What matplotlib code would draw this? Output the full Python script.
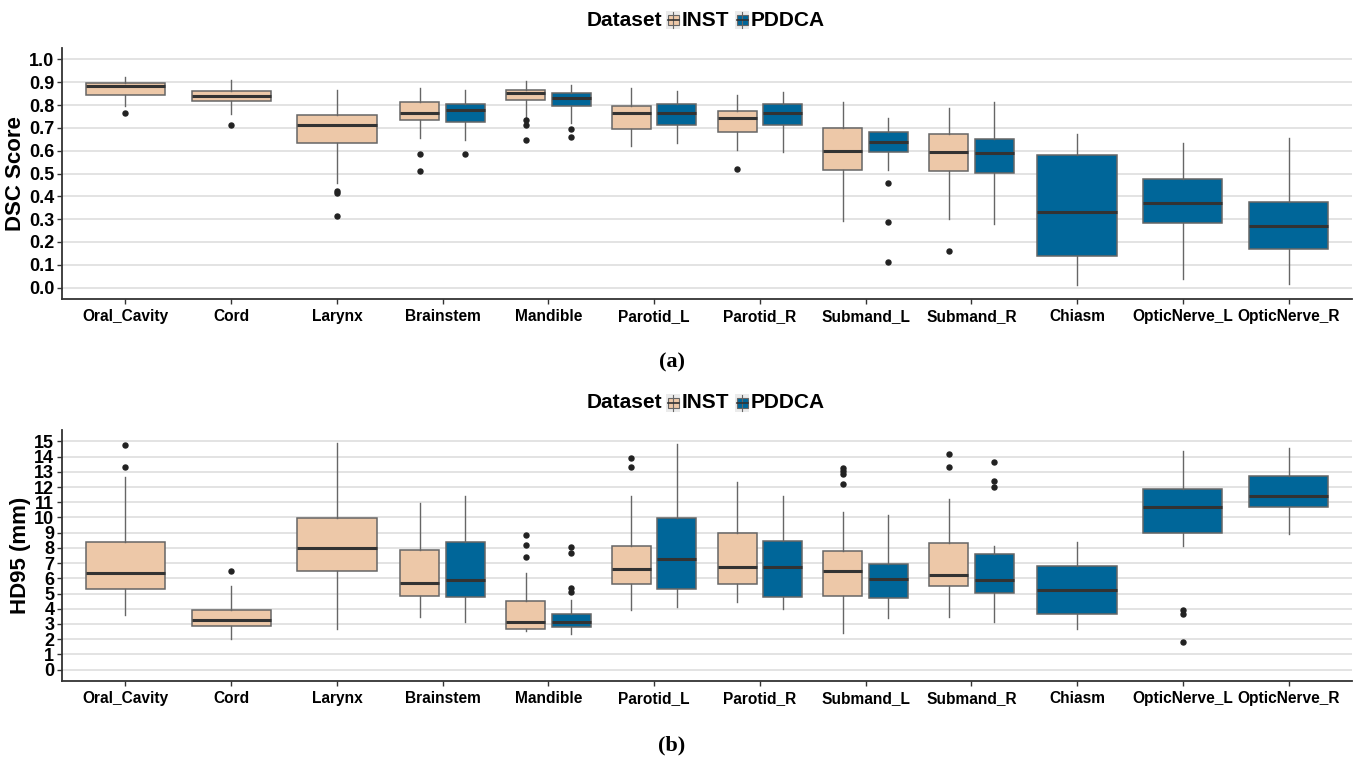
import matplotlib
matplotlib.use("Agg")
import matplotlib.pyplot as plt
from matplotlib.patches import Rectangle
from matplotlib.lines import Line2D

organs = ["Oral_Cavity", "Cord", "Larynx", "Brainstem", "Mandible", "Parotid_L",
          "Parotid_R", "Submand_L", "Submand_R", "Chiasm", "OpticNerve_L", "OpticNerve_R"]

# box stats per organ: (whisker low, q1, median, q3, whisker high); None = no data
dsc_inst = [
    (0.798, 0.842, 0.882, 0.895, 0.924),
    (0.759, 0.816, 0.838, 0.863, 0.908),
    (0.459, 0.633, 0.712, 0.757, 0.868),
    (0.655, 0.735, 0.765, 0.813, 0.873),
    (0.744, 0.820, 0.852, 0.868, 0.906),
    (0.620, 0.696, 0.765, 0.795, 0.873),
    (0.602, 0.684, 0.743, 0.776, 0.844),
    (0.291, 0.515, 0.598, 0.700, 0.814),
    (0.301, 0.510, 0.595, 0.674, 0.789),
    None, None, None,
]
dsc_inst_out = [[0.766], [0.713], [0.424, 0.415, 0.314], [0.586, 0.512],
                [0.735, 0.711, 0.645], [], [0.519], [], [0.159], [], [], []]
dsc_pddca = [
    None, None, None,
    (0.649, 0.725, 0.779, 0.806, 0.867),
    (0.722, 0.794, 0.830, 0.854, 0.887),
    (0.635, 0.713, 0.765, 0.806, 0.863),
    (0.595, 0.711, 0.763, 0.806, 0.858),
    (0.515, 0.595, 0.639, 0.681, 0.744),
    (0.279, 0.501, 0.588, 0.652, 0.814),
    (0.012, 0.140, 0.330, 0.582, 0.674),
    (0.038, 0.281, 0.371, 0.478, 0.632),
    (0.015, 0.171, 0.268, 0.376, 0.656),
]
dsc_pddca_out = [[], [], [], [0.586], [0.696, 0.659], [], [], [0.458, 0.288, 0.111],
                 [], [], [], []]

hd_inst = [
    (3.62, 5.28, 6.34, 8.39, 12.64),
    (1.98, 2.86, 3.29, 3.95, 5.49),
    (2.64, 6.45, 7.98, 9.96, 14.91),
    (3.44, 4.86, 5.67, 7.83, 10.94),
    (2.53, 2.68, 3.10, 4.51, 6.32),
    (3.92, 5.65, 6.63, 8.15, 11.42),
    (4.45, 5.60, 6.74, 8.98, 12.36),
    (2.38, 4.86, 6.47, 7.78, 10.38),
    (3.47, 5.52, 6.24, 8.33, 11.23),
    None, None, None,
]
hd_inst_out = [[14.74, 13.34], [6.50], [], [], [8.83, 8.22, 7.43], [13.89, 13.34], [],
               [13.23, 13.04, 12.86, 12.21], [14.19, 13.30], [], [], []]
hd_pddca = [
    None, None, None,
    (3.16, 4.80, 5.91, 8.37, 11.38),
    (2.31, 2.81, 3.14, 3.68, 4.56),
    (4.12, 5.28, 7.24, 9.94, 14.82),
    (4.01, 4.75, 6.74, 8.46, 11.38),
    (3.40, 4.69, 5.97, 6.93, 10.18),
    (3.16, 5.01, 5.86, 7.63, 8.15),
    (2.64, 3.68, 5.25, 6.80, 8.42),
    (8.11, 8.98, 10.70, 11.90, 14.39),
    (8.92, 10.66, 11.38, 12.73, 14.54),
]
hd_pddca_out = [[], [], [], [], [8.04, 7.65, 5.34, 5.08], [], [], [],
                [13.67, 12.38, 12.01], [], [3.92, 3.64, 1.79], []]

datasets = ["INST", "PDDCA"]
colors = {"INST": "#EDC8A8", "PDDCA": "#006699"}
EDGE = "#666666"
FONT = ["Liberation Sans", "DejaVu Sans"]
W, H = 1360, 762


def draw_panel(ax, inst, inst_out, pddca, pddca_out, yticks, ylim, ylabel):
    for i in range(len(organs)):
        groups = [(s, o, colors[d]) for s, o, d in
                  ((inst[i], inst_out[i], "INST"), (pddca[i], pddca_out[i], "PDDCA")) if s]
        if len(groups) == 2:
            pos, w = [i + 1 - 0.215, i + 1 + 0.215], 0.37
        else:
            pos, w = [i + 1], 0.75
        for p, (s, o, c) in zip(pos, groups):
            st = dict(whislo=s[0], q1=s[1], med=s[2], q3=s[3], whishi=s[4], fliers=o)
            ax.bxp([st], positions=[p], widths=w, patch_artist=True, showcaps=False,
                   boxprops=dict(facecolor=c, edgecolor=EDGE, linewidth=1.1),
                   medianprops=dict(color="#333333", linewidth=2.2),
                   whiskerprops=dict(color=EDGE, linewidth=1.0),
                   flierprops=dict(marker="o", markersize=3.6, markerfacecolor="#222222",
                                   markeredgecolor="#222222"),
                   manage_ticks=False, zorder=3)
    ax.set_xlim(0.4, len(organs) + 0.6)
    ax.set_ylim(*ylim)
    ax.set_yticks(yticks)
    ax.set_yticklabels([f"{t}" for t in yticks], family=FONT, fontweight="bold", fontsize=13)
    ax.set_xticks(range(1, len(organs) + 1))
    ax.set_xticklabels(organs, family=FONT, fontweight="bold", fontsize=11.2)
    ax.yaxis.grid(True, color="#E3E3E3", linewidth=1.4, zorder=0)
    ax.set_axisbelow(True)
    for side in ("top", "right"):
        ax.spines[side].set_visible(False)
    for side in ("left", "bottom"):
        ax.spines[side].set_color("#333333")
        ax.spines[side].set_linewidth(1.3)
    ax.tick_params(axis="both", length=3.5, color="#333333", width=1, pad=2)
    ax.tick_params(axis="x", pad=4)
    ax.set_ylabel(ylabel, family=FONT, fontweight="bold", fontsize=16, labelpad=2)


def box_key(fig, x, y, color):
    # ggplot-style boxplot legend key, x/y = pixel centre
    def fx(px):
        return px / W

    def fy(py):
        return 1 - py / H
    fig.add_artist(Rectangle((fx(x - 7), fy(y + 9)), 14 / W, 18 / H, facecolor="#EBEBEB",
                             edgecolor="none", transform=fig.transFigure))
    fig.add_artist(Line2D([fx(x)] * 2, [fy(y + 8), fy(y - 8)], color=EDGE, lw=0.8,
                          transform=fig.transFigure))
    fig.add_artist(Rectangle((fx(x - 5.5), fy(y + 5)), 11 / W, 10 / H, facecolor=color,
                             edgecolor=EDGE, lw=0.8, transform=fig.transFigure))
    fig.add_artist(Line2D([fx(x - 5.5), fx(x + 5.5)], [fy(y)] * 2, color="#333333", lw=1.2,
                          transform=fig.transFigure))


def add_legend(fig, y):
    kw = dict(family=FONT, fontweight="bold", fontsize=15, va="center", ha="left")
    fig.text(587 / W, 1 - y / H, "Dataset", **kw)
    box_key(fig, 673, y, colors["INST"])
    fig.text(682 / W, 1 - y / H, "INST", **kw)
    box_key(fig, 742, y, colors["PDDCA"])
    fig.text(751 / W, 1 - y / H, "PDDCA", **kw)


fig = plt.figure(figsize=(13.6, 7.62), dpi=100)
ax_a = fig.add_axes([62 / W, 1 - 299 / H, 1290 / W, 251 / H])
ax_b = fig.add_axes([62 / W, 1 - 681 / H, 1290 / W, 251 / H])

draw_panel(ax_a, dsc_inst, dsc_inst_out, dsc_pddca, dsc_pddca_out,
           [round(0.1 * k, 1) for k in range(11)], (-0.05, 1.05), "DSC Score")
draw_panel(ax_b, hd_inst, hd_inst_out, hd_pddca, hd_pddca_out,
           list(range(16)), (-0.75, 15.75), "HD95 (mm)")

add_legend(fig, 20)
add_legend(fig, 403)

fig.text(672 / W, 1 - 362 / H, "(a)", family="Liberation Serif", fontweight="bold",
         fontsize=16, ha="center", va="center")
fig.text(672 / W, 1 - 745 / H, "(b)", family="Liberation Serif", fontweight="bold",
         fontsize=16, ha="center", va="center")

fig.savefig("out.png", dpi=100, facecolor="white")
